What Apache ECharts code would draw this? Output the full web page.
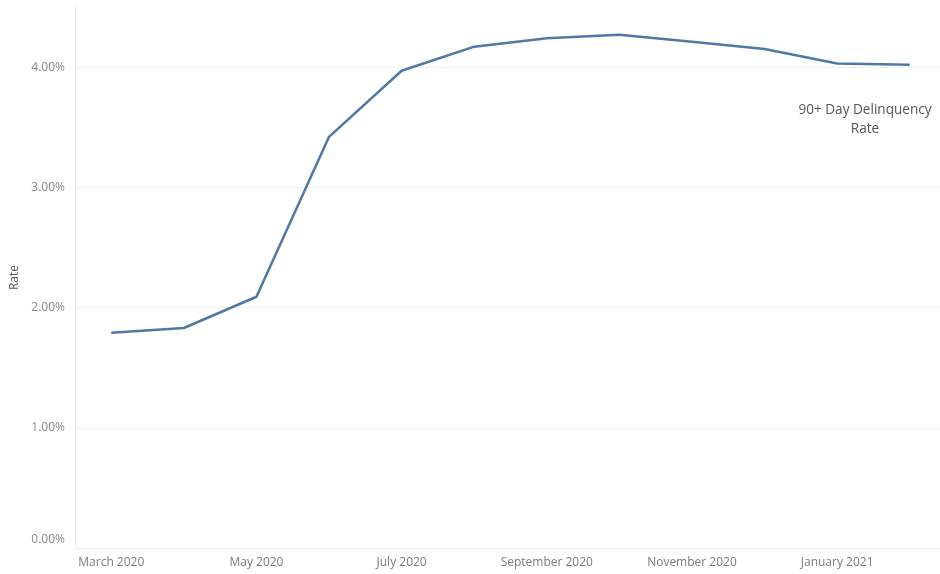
<!DOCTYPE html>
<html>
<head>
<meta charset="utf-8">
<script src="https://cdn.jsdelivr.net/npm/echarts@6/dist/echarts.min.js"></script>
<style>html,body{margin:0;padding:0;background:#fff;}#c{width:940px;height:574px;}</style>
</head>
<body>
<div id="c"></div>
<script>
const months = ['March 2020','April 2020','May 2020','June 2020','July 2020','August 2020','September 2020','October 2020','November 2020','December 2020','January 2021','February 2021'];
const rateValues = [1.79, 1.83, 2.09, 3.42, 3.97, 4.17, 4.24, 4.27, 4.21, 4.15, 4.03, 4.02];
const seriesName = '90+ Day Delinquency Rate';
const axisName = 'Rate';

const chart = echarts.init(document.getElementById('c'), null, {renderer: 'canvas'});
const FONT = 'Open Sans';
chart.setOption({
  animation: false,
  backgroundColor: '#fff',
  grid: {left: 75, right: -6, top: 7, bottom: 26, outerBoundsMode: 'none', containLabel: false},
  xAxis: {
    type: 'category',
    data: months,
    boundaryGap: true,
    axisLine: {show: true, lineStyle: {color: '#ececec', width: 1}},
    axisTick: {show: false},
    axisLabel: {
      interval: 1, margin: 9, color: '#7b7b7b', fontSize: 12, fontFamily: FONT
    },
    splitLine: {show: false}
  },
  yAxis: {
    type: 'value',
    min: 0, max: 4.5, interval: 1,
    name: axisName,
    nameLocation: 'middle',
    nameGap: 47,
    nameTextStyle: {color: '#555', fontSize: 12, fontFamily: FONT},
    axisLine: {show: true, lineStyle: {color: '#ececec', width: 1}},
    axisTick: {show: false},
    axisLabel: {
      margin: 10, color: '#8a8a8a', fontSize: 12, fontFamily: FONT,
      showMaxLabel: false,
      formatter: function (v) {
        if (v > 4.4) return '';
        return v === 0 ? '{z|0.00%}' : v.toFixed(2) + '%';
      },
      rich: {z: {color: '#8a8a8a', fontSize: 12, fontFamily: FONT, padding: [0, 0, 16, 0]}}
    },
    splitLine: {show: true, showMinLine: false, showMaxLine: false, lineStyle: {color: '#f1f1f1', width: 1}}
  },
  series: [{
    name: seriesName,
    type: 'line',
    data: rateValues,
    symbol: 'none',
    lineStyle: {color: '#4e79a7', width: 2.5},
    itemStyle: {color: '#4e79a7'}
  }],
  graphic: [{
    type: 'text',
    x: 865, y: 101,
    style: {
      text: '90+ Day Delinquency\nRate',
      textAlign: 'center',
      fill: '#555',
      font: '13.6px "Open Sans"',
      lineHeight: 19
    }
  }]
});
</script>
</body>
</html>
